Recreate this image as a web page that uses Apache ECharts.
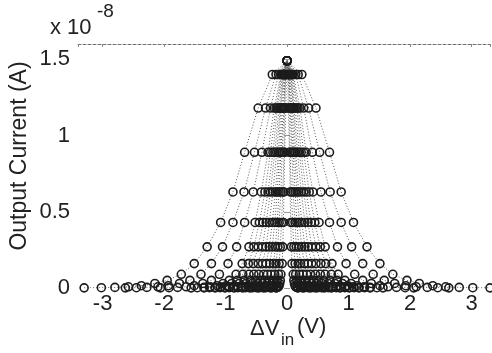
<!DOCTYPE html>
<html>
<head>
<meta charset="utf-8">
<script src="https://cdn.jsdelivr.net/npm/echarts@6/dist/echarts.min.js"></script>
<style>
  html, body { margin: 0; padding: 0; background: #fff; }
  #chart { width: 492px; height: 353px; }
</style>
</head>
<body>
<div id="chart"></div>
<script>
// Output current (in units of 1e-8 A) reached at sweep step n = 0..15
const stepCurrents = [1.49, 1.40, 1.18, 0.89, 0.63, 0.43, 0.27, 0.16, 0.09, 0.05, 0.03, 0.015, 0.008, 0.004, 0.002, 0.001];

// |ΔVin| (V) at sweep step n = 0..15 for each curve; every curve is symmetric about 0
const curveA = [0, 0.24, 0.47, 0.69, 0.88, 1.08, 1.30, 1.51, 1.72, 1.95, 2.15, 2.37, 2.58, 2.80, 3.02, 3.30];
const curveB = [0, 0.18, 0.35, 0.53, 0.70, 0.88, 1.05, 1.23, 1.40, 1.58, 1.75, 1.93, 2.10, 2.28, 2.45, 2.63];
const curveC = [0, 0.14, 0.27, 0.41, 0.55, 0.69, 0.82, 0.96, 1.10, 1.23, 1.37, 1.51, 1.64, 1.78, 1.92, 2.06];
const curveD = [0, 0.10, 0.21, 0.31, 0.42, 0.52, 0.62, 0.73, 0.83, 0.94, 1.04, 1.14, 1.25, 1.35, 1.46, 1.56];
const curveE = [0, 0.09, 0.18, 0.27, 0.36, 0.45, 0.54, 0.63, 0.72, 0.81, 0.90, 0.99, 1.08, 1.17, 1.26, 1.35];
const curveF = [0, 0.08, 0.16, 0.23, 0.31, 0.39, 0.47, 0.55, 0.62, 0.70, 0.78, 0.86, 0.94, 1.01, 1.09, 1.17];
const curveG = [0, 0.07, 0.13, 0.20, 0.27, 0.34, 0.40, 0.47, 0.54, 0.60, 0.67, 0.74, 0.80, 0.87, 0.94, 1.01];
const curveH = [0, 0.06, 0.11, 0.17, 0.23, 0.29, 0.34, 0.40, 0.46, 0.51, 0.57, 0.63, 0.68, 0.74, 0.80, 0.86];
const curveI = [0, 0.05, 0.10, 0.14, 0.19, 0.24, 0.29, 0.34, 0.38, 0.43, 0.48, 0.53, 0.58, 0.62, 0.67, 0.72];
const curveJ = [0, 0.04, 0.08, 0.12, 0.16, 0.20, 0.24, 0.28, 0.32, 0.36, 0.40, 0.44, 0.48, 0.52, 0.56, 0.60];
const curveK = [0, 0.03, 0.06, 0.10, 0.13, 0.16, 0.19, 0.22, 0.26, 0.29, 0.32, 0.35, 0.38, 0.42, 0.45, 0.48];
const curveL = [0, 0.03, 0.05, 0.08, 0.10, 0.13, 0.15, 0.18, 0.20, 0.23, 0.25, 0.28, 0.30, 0.33, 0.35, 0.38];
const curveM = [0, 0.02, 0.04, 0.05, 0.07, 0.09, 0.11, 0.13, 0.14, 0.16, 0.18, 0.20, 0.22, 0.23, 0.25, 0.27];
const curveN = [0, 0.01, 0.02, 0.04, 0.05, 0.06, 0.07, 0.08, 0.10, 0.11, 0.12, 0.13, 0.14, 0.16, 0.17, 0.18];
const curves = [curveA, curveB, curveC, curveD, curveE, curveF, curveG, curveH, curveI, curveJ, curveK, curveL, curveM, curveN];

// Tick labels
const xTicks = [-3, -2, -1, 0, 1, 2, 3];
const yTicks = [0, 0.5, 1, 1.5];

const FONT = '"Liberation Sans", Arial, sans-serif';
const INK = '#222';

// Full sweep for one curve: negative side (outermost first), then positive side
function sweep(xs) {
  const pts = [];
  for (let n = xs.length - 1; n >= 1; n--) pts.push([-xs[n], stepCurrents[n]]);
  for (let n = 0; n < xs.length; n++) pts.push([xs[n], stepCurrents[n]]);
  return pts;
}

const series = curves.map(xs => ({
  type: 'line',
  data: sweep(xs),
  symbol: 'circle',
  symbolSize: 8,
  showAllSymbol: true,
  itemStyle: { color: 'rgba(0,0,0,0)', borderColor: '#1c1c1c', borderWidth: 1.6 },
  lineStyle: { color: '#5a5a5a', width: 1, type: [1, 2] },
  emphasis: { disabled: true },
  animation: false,
  z: 2
}));

const chart = echarts.init(document.getElementById('chart'), null, { renderer: 'canvas' });

const labelStyle = { fontFamily: FONT, fontSize: 22, color: INK };

chart.setOption({
  animation: false,
  backgroundColor: '#fff',
  grid: { left: 78, right: 2, top: 44, bottom: 65 },
  xAxis: [
    {
      type: 'value', min: -3.4, max: 3.3, position: 'bottom',
      axisLine: { show: false },
      axisTick: { show: false },
      splitLine: { show: false },
      axisLabel: Object.assign({}, labelStyle, {
        margin: 5, showMinLabel: false, showMaxLabel: false,
        formatter: v => (xTicks.indexOf(v) >= 0 ? String(v) : '')
      })
    },
    {
      type: 'value', min: -3.4, max: 3.3, position: 'top',
      axisLine: { show: true, onZero: false, lineStyle: { color: '#707070', width: 1, type: [3, 2] } },
      axisTick: { show: true, inside: true, length: 3, lineStyle: { color: '#888' } },
      axisLabel: { show: false },
      splitLine: { show: false }
    }
  ],
  yAxis: [
    {
      type: 'value', min: 0, max: 1.6, interval: 0.5, position: 'left',
      axisLine: { show: false },
      axisTick: { show: true, inside: true, length: 3, lineStyle: { color: '#999' } },
      splitLine: { show: false },
      axisLabel: Object.assign({}, labelStyle, {
        margin: 8, showMaxLabel: false,
        formatter: v => (yTicks.indexOf(v) >= 0 ? String(v) : '')
      })
    },
    {
      type: 'value', min: 0, max: 1.6, interval: 0.5, position: 'right',
      axisLine: { show: false },
      axisTick: { show: true, inside: true, length: 3, lineStyle: { color: '#999' } },
      axisLabel: { show: false },
      splitLine: { show: false }
    }
  ],
  series: series,
  graphic: [
    // Y axis title
    {
      type: 'text', x: 20, y: 156, rotation: Math.PI / 2,
      style: { text: 'Output Current (A)', font: '23px ' + FONT, fill: INK, align: 'center', verticalAlign: 'middle' }
    },
    // Scale factor above the y axis
    { type: 'text', left: 50, top: 17, style: { text: 'x 10', font: '22px ' + FONT, fill: INK } },
    { type: 'text', left: 97, top: 2, style: { text: '-8', font: '19px ' + FONT, fill: INK } },
    // X axis title: ΔV with subscript "in", then the unit
    { type: 'text', left: 250, top: 318, style: { text: 'ΔV', font: '22px ' + FONT, fill: INK } },
    { type: 'text', left: 281, top: 332, style: { text: 'in', font: '17px ' + FONT, fill: INK } },
    { type: 'text', left: 297, top: 316, style: { text: '(V)', font: '22px ' + FONT, fill: INK } }
  ]
});
</script>
</body>
</html>
